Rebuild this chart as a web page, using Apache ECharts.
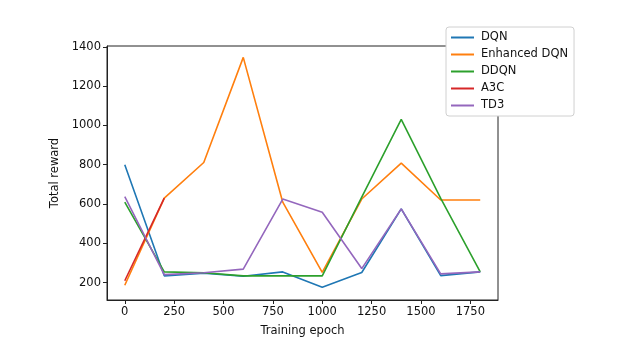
<!DOCTYPE html>
<html>
<head>
<meta charset="utf-8">
<script src="https://cdn.jsdelivr.net/npm/echarts@6/dist/echarts.min.js"></script>
<style>html,body{margin:0;padding:0;background:#fff}#c{width:621px;height:357px}</style>
</head>
<body>
<div id="c"></div>
<script>
const epochs = [0, 200, 400, 600, 800, 1000, 1200, 1400, 1600, 1800];
const dqn = [799, 234, 248, 232, 254, 176, 251, 575, 235, 254];
const enhancedDqn = [186, 630, 811, 1346, 609, 252, 625, 808, 620, 620];
const ddqn = [609, 254, 250, 234, 234, 234, 635, 1030, 628, 254];
const a3c = [209, 630, null, null, null, null, null, null, null, null];
const td3 = [637, 240, 250, 268, 625, 558, 271, 575, 244, 254];
const xTicks = [0, 250, 500, 750, 1000, 1250, 1500, 1750];
const yTicks = [200, 400, 600, 800, 1000, 1200, 1400];

const names = ['DQN', 'Enhanced DQN', 'DDQN', 'A3C', 'TD3'];
const colors = ['#1f77b4', '#ff7f0e', '#2ca02c', '#d62728', '#9467bd'];
const values = [dqn, enhancedDqn, ddqn, a3c, td3];

const font = 'DejaVu Sans';
const chart = echarts.init(document.getElementById('c'), null, {renderer: 'canvas'});
chart.setOption({
  animation: false,
  backgroundColor: '#fff',
  grid: {left: 107, right: 123, top: 46, bottom: 57, show: true, borderColor: '#222', borderWidth: 1, backgroundColor: 'transparent'},
  legend: {
    left: 446, top: 27, orient: 'vertical',
    data: names.map(n => ({name: n, icon: 'rect'})),
    itemWidth: 23, itemHeight: 2, itemGap: 4,
    backgroundColor: '#fff', borderColor: '#d0d0d0', borderWidth: 1, borderRadius: 3,
    padding: [4, 6, 4, 5],
    textStyle: {fontFamily: font, fontSize: 11.5, color: '#111', lineHeight: 13, padding: [0, 0, 0, 2]}
  },
  xAxis: {
    type: 'value', min: -90, max: 1890,
    name: 'Training epoch', nameLocation: 'middle', nameGap: 25,
    nameTextStyle: {fontFamily: font, fontSize: 11.5, color: '#111'},
    axisLine: {show: true, onZero: false, lineStyle: {color: '#222', width: 1}},
    splitLine: {show: false},
    axisTick: {show: true, length: 4, customValues: xTicks, lineStyle: {color: '#222'}},
    axisLabel: {customValues: xTicks, formatter: v => String(v), fontFamily: font, fontSize: 11.5, color: '#111', margin: 6}
  },
  yAxis: {
    type: 'value', min: 111, max: 1404,
    name: 'Total reward', nameLocation: 'middle', nameGap: 44, nameRotate: 90,
    nameTextStyle: {fontFamily: font, fontSize: 11.5, color: '#111'},
    axisLine: {show: true, onZero: false, lineStyle: {color: '#222', width: 1}},
    splitLine: {show: false},
    axisTick: {show: true, length: 4, customValues: yTicks, lineStyle: {color: '#222'}},
    axisLabel: {customValues: yTicks, formatter: v => String(v), fontFamily: font, fontSize: 11.5, color: '#111', margin: 6}
  },
  series: names.map((n, i) => ({
    name: n, type: 'line', showSymbol: false, symbol: 'none',
    connectNulls: false,
    color: colors[i],
    lineStyle: {width: 1.6, color: colors[i]},
    data: epochs.map((e, j) => [e, values[i][j]])
  }))
});
</script>
</body>
</html>
